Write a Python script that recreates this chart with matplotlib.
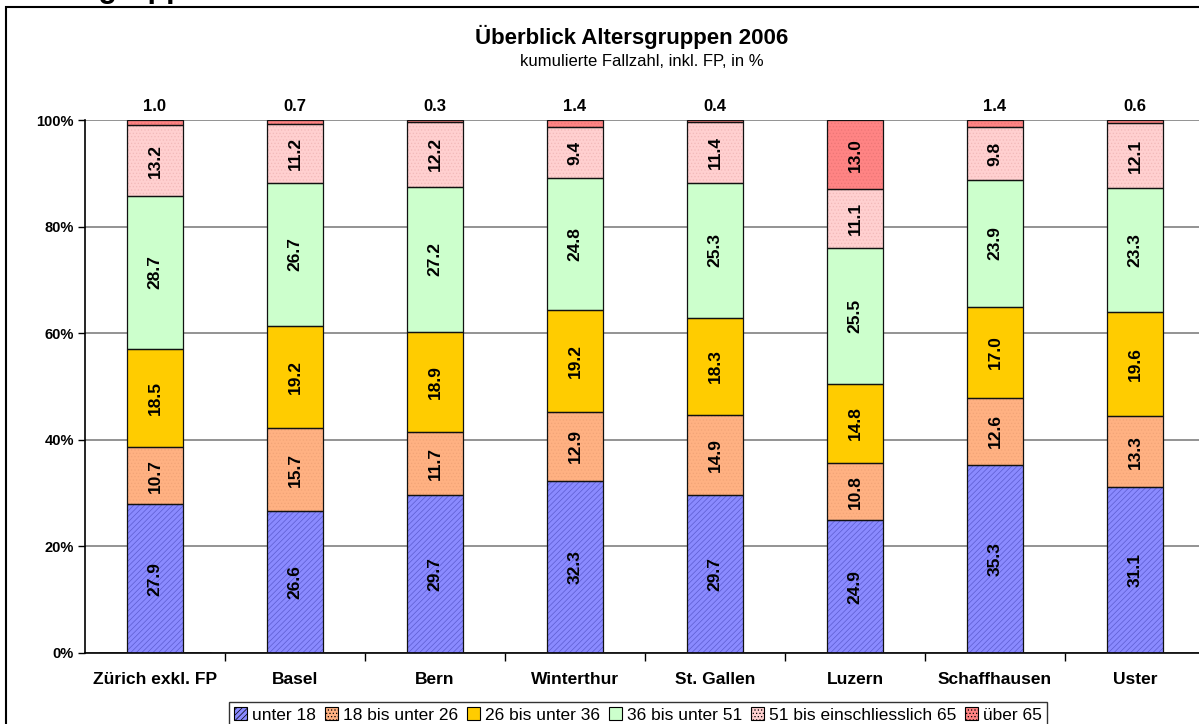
import matplotlib.pyplot as plt
import numpy as np
from matplotlib.patches import Rectangle

plt.rcParams['font.family'] = ['Liberation Sans', 'DejaVu Sans']
plt.rcParams['hatch.linewidth'] = 0.5

staedte = ['Zürich exkl. FP', 'Basel', 'Bern', 'Winterthur', 'St. Gallen',
           'Luzern', 'Schaffhausen', 'Uster']
gruppen = ['unter 18', '18 bis unter 26', '26 bis unter 36', '36 bis unter 51',
           '51 bis einschliesslich 65', 'über 65']
unter18 = [27.9, 26.6, 29.7, 32.3, 29.7, 24.9, 35.3, 31.1]
bis26 = [10.7, 15.7, 11.7, 12.9, 14.9, 10.8, 12.6, 13.3]
bis36 = [18.5, 19.2, 18.9, 19.2, 18.3, 14.8, 17.0, 19.6]
bis51 = [28.7, 26.7, 27.2, 24.8, 25.3, 25.5, 23.9, 23.3]
bis65 = [13.2, 11.2, 12.2, 9.4, 11.4, 11.1, 9.8, 12.1]
ueber65 = [1.0, 0.7, 0.3, 1.4, 0.4, 13.0, 1.4, 0.6]

werte = np.array([unter18, bis26, bis36, bis51, bis65, ueber65])
anteile = werte / werte.sum(axis=0)   # 100% gestapelt wie in Excel

farben = ['#8A8AFF', '#FFB182', '#FFCC00', '#CCFFCC', '#FFD0D0', '#FF8484']
muster = ['//////', '.....', None, None, '.....', '.....']
musterfarbe = ['#5C5CD0', '#F2A477', None, None, '#F2B9B9', '#EC7676']

fig = plt.figure(figsize=(11.99, 7.24), dpi=100)
ax = fig.add_axes([85 / 1199, 1 - 653 / 724, 1120 / 1199, 533 / 724])

x = np.arange(len(staedte))
breite = 0.4
unten = np.zeros(len(staedte))
for i in range(len(gruppen)):
    if muster[i]:
        ax.bar(x, anteile[i], breite, bottom=unten, color=farben[i],
               hatch=muster[i], edgecolor=musterfarbe[i], linewidth=0, zorder=2)
    else:
        ax.bar(x, anteile[i], breite, bottom=unten, color=farben[i],
               linewidth=0, zorder=2)
    ax.bar(x, anteile[i], breite, bottom=unten, fill=False,
           edgecolor='#111111', linewidth=0.9, zorder=3)
    ax.bar(0, 0, color=farben[i], hatch=muster[i], edgecolor='black',
           linewidth=0.8, label=gruppen[i])
    for j in range(len(staedte)):
        if werte[i, j] >= 5:
            ax.text(x[j], unten[j] + anteile[i, j] / 2, f'{werte[i, j]:.1f}',
                    rotation=90, ha='center', va='center', fontsize=12.5,
                    fontweight='bold', zorder=4)
        else:
            ax.annotate(f'{werte[i, j]:.1f}', (x[j], 1.0), xytext=(0, 4),
                        textcoords='offset points', ha='center', va='bottom',
                        fontsize=12, fontweight='bold')
    unten += anteile[i]

ax.set_xlim(-0.5, len(staedte) - 0.5)
ax.set_ylim(0, 1)
ax.set_yticks(np.arange(0, 1.01, 0.2))
ax.set_yticklabels([f'{int(round(v * 100))}%' for v in np.arange(0, 1.01, 0.2)],
                   fontweight='bold', fontsize=10.5)
ax.set_xticks(x)
ax.set_xticklabels(staedte, fontweight='bold', fontsize=12.5)
ax.set_xticks(np.arange(0.5, len(staedte) - 0.5, 1), minor=True)
ax.tick_params(axis='x', which='major', length=0, pad=14)
ax.tick_params(axis='x', which='minor', length=6, width=1, direction='out')
ax.tick_params(axis='y', length=5, width=1, direction='out', pad=3)
ax.yaxis.grid(True, color='#808080', linewidth=1.2, zorder=0)
ax.set_axisbelow(True)
for s in ['top', 'right']:
    ax.spines[s].set_visible(False)
for s in ['left', 'bottom']:
    ax.spines[s].set_linewidth(1.2)

fig.text(632 / 1199, 1 - 37 / 724, 'Überblick Altersgruppen 2006',
         ha='center', va='center', fontsize=16, fontweight='bold')
fig.text(642 / 1199, 1 - 61 / 724, 'kumulierte Fallzahl, inkl. FP, in %',
         ha='center', va='center', fontsize=12)
fig.text(0.01, 1 + 3 / 724, 'Altersgruppen', ha='left', va='baseline',
         fontsize=22, fontweight='bold')

fig.patches.append(Rectangle((6 / 1199, -0.05), 1.1, 1 - 7 / 724 + 0.05,
                             transform=fig.transFigure, fill=False,
                             edgecolor='black', linewidth=1.5))

leg = ax.legend(loc='upper center', bbox_to_anchor=(638 / 1199, 1 - 702 / 724),
                bbox_transform=fig.transFigure, ncol=6, fontsize=12.5,
                frameon=True, fancybox=False, edgecolor='black',
                handlelength=0.75, handleheight=0.75, handletextpad=0.3,
                columnspacing=0.5, borderpad=0.3, borderaxespad=0)
leg.get_frame().set_linewidth(1.0)

fig.savefig('out.png', dpi=100)
